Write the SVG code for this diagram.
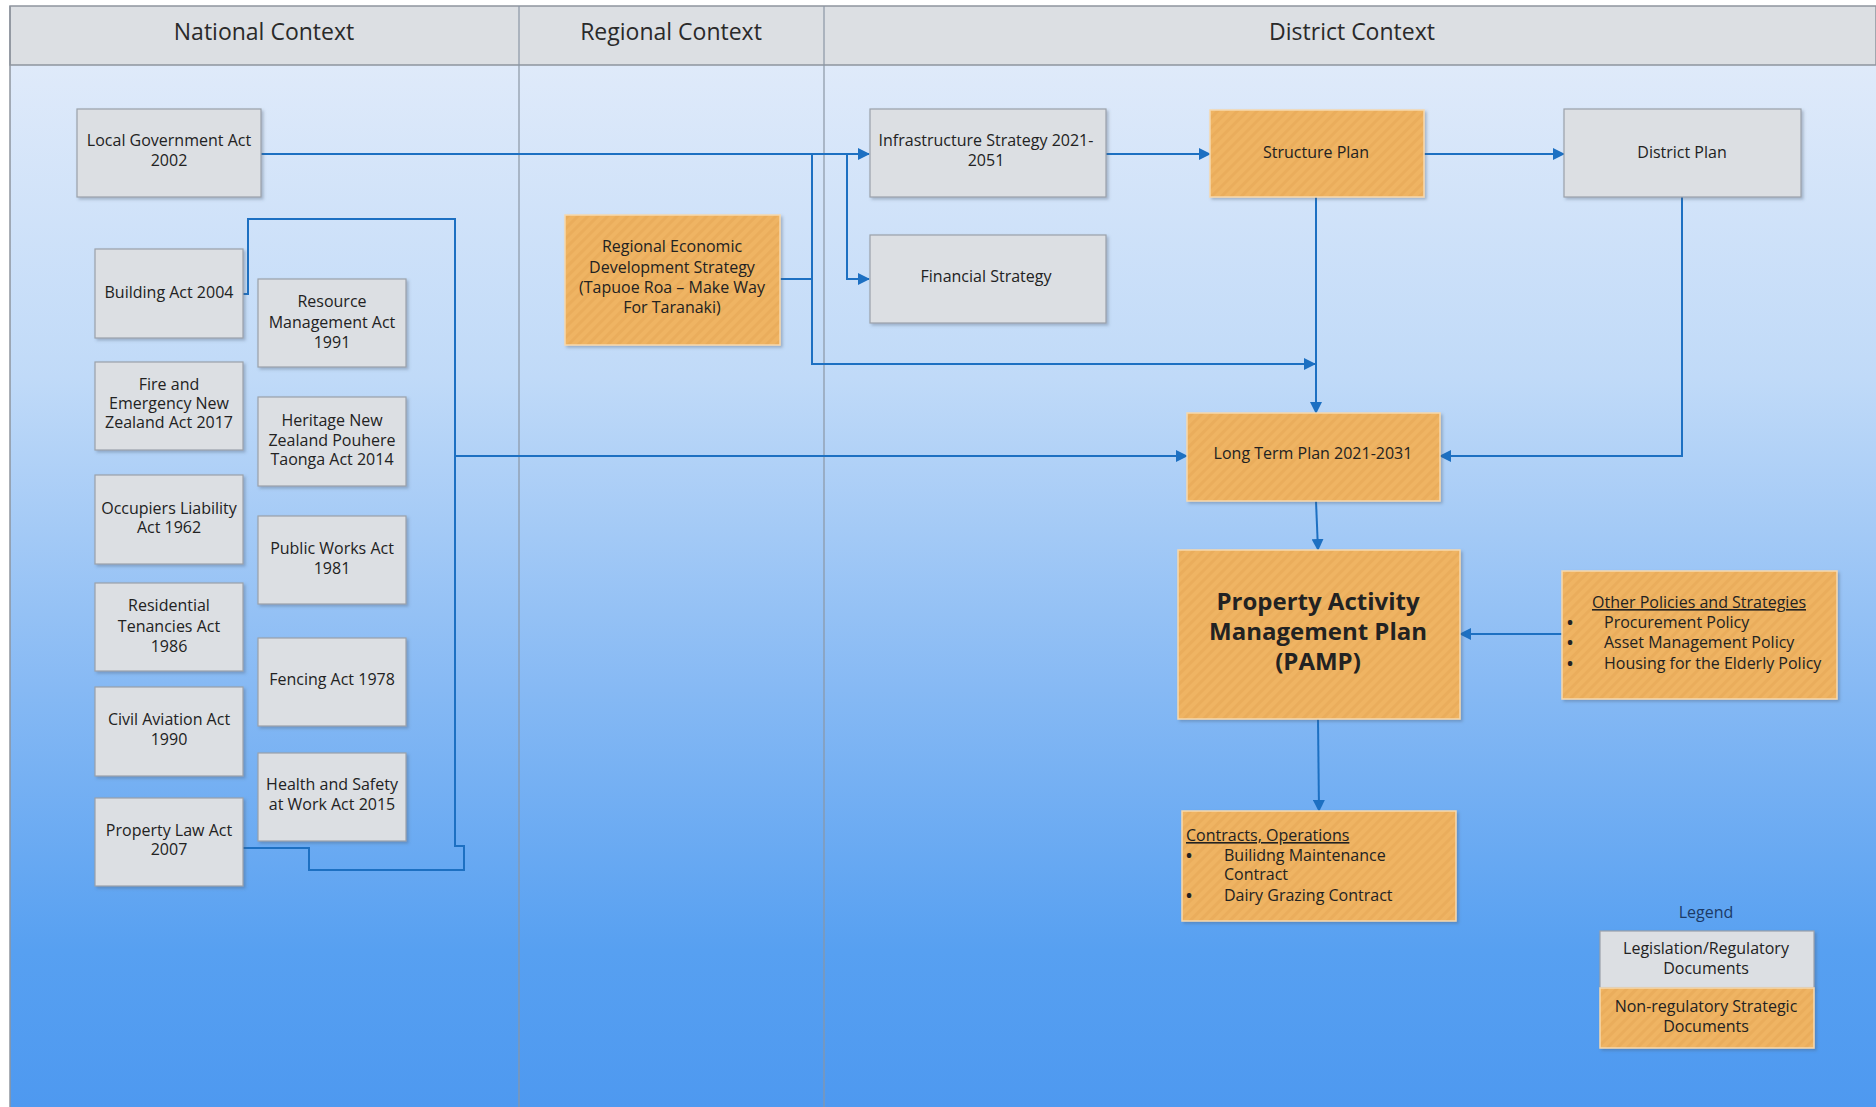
<svg xmlns="http://www.w3.org/2000/svg" width="1876" height="1107" viewBox="0 0 1876 1107">
<style>
text{font-family:"Open Sans","Noto Sans","Liberation Sans",sans-serif;fill:#222;}
.t{font-size:16px;text-anchor:middle;}
.l{font-size:16px;}
.b{font-size:16px;font-weight:bold;}
.h{font-size:23px;text-anchor:middle;fill:#2a2a2a;}
.g{fill:#dcdfe3;stroke:#9aa1aa;stroke-width:1.2;filter:url(#sh);}
.o{fill:url(#hatch);stroke:#f6d9ae;stroke-width:1.5;filter:url(#sh);}
.c{fill:none;stroke:#1d70c2;stroke-width:2;}
.a{marker-end:url(#arr);}
</style>
<defs>
<linearGradient id="bg" x1="0" y1="0" x2="0" y2="1">
<stop offset="0" stop-color="#dfeafa"/>
<stop offset="0.3" stop-color="#c0daf8"/>
<stop offset="0.6" stop-color="#86b9f4"/>
<stop offset="0.85" stop-color="#57a0f1"/>
<stop offset="1" stop-color="#4e99f0"/>
</linearGradient>
<pattern id="hatch" width="7" height="7" patternUnits="userSpaceOnUse" patternTransform="rotate(45)">
<rect width="7" height="7" fill="#efb463"/>
<rect width="3" height="7" fill="#eaad5c"/>
</pattern>
<filter id="sh" x="-5%" y="-5%" width="115%" height="120%">
<feDropShadow dx="2" dy="2" stdDeviation="1.5" flood-color="#4a5a70" flood-opacity="0.35"/>
</filter>
<marker id="arr" markerWidth="12" markerHeight="12" refX="11" refY="6" orient="auto" markerUnits="userSpaceOnUse">
<path d="M0,0 L12,6 L0,12 Z" fill="#1d70c2"/>
</marker>
</defs>

<g id="background">
<rect x="0" y="0" width="1876" height="1107" fill="#ffffff"/>
<rect x="10" y="65" width="1866" height="1042" fill="url(#bg)"/>
<rect x="10" y="6" width="1866" height="59" fill="#dcdfe3" stroke="#8e959e" stroke-width="1.5"/>
<line x1="10" y1="6" x2="10" y2="1107" stroke="#8e959e" stroke-width="1.5"/>
<line x1="519" y1="6" x2="519" y2="1107" stroke="#8a96a4" stroke-width="1.2"/>
<line x1="824" y1="6" x2="824" y2="1107" stroke="#8a96a4" stroke-width="1.2"/>
<text class="h" x="264" y="40">National Context</text>
<text class="h" x="671" y="40">Regional Context</text>
<text class="h" x="1352" y="40">District Context</text>
</g>

<g id="connectors">
<path class="c a" d="M261,154 H869"/>
<path class="c a" d="M847,154 V279 H869"/>
<path class="c" d="M780,279 H812"/>
<path class="c a" d="M812,154 V364 H1315"/>
<path class="c a" d="M1106,154 H1210"/>
<path class="c a" d="M1424,154 H1564"/>
<path class="c a" d="M1316,197 V413"/>
<path class="c a" d="M1682,197 V456 H1440"/>
<path class="c" d="M243,294 H248 V219 H455 V846 H464 V870 H309 V848 H243"/>
<path class="c a" d="M455,456 H1187"/>
<path class="c a" d="M1316,501 L1318,550"/>
<path class="c a" d="M1318,719 L1319,811"/>
<path class="c a" d="M1562,634 H1460"/>
</g>

<g id="local-government-act">
<rect class="g" x="77" y="109" width="184" height="88"/>
<text class="t" x="169" y="146">Local Government Act</text>
<text class="t" x="169" y="166">2002</text>
</g>
<g id="building-act">
<rect class="g" x="95" y="249" width="148" height="89"/>
<text class="t" x="169" y="298">Building Act 2004</text>
</g>
<g id="resource-management-act">
<rect class="g" x="258" y="279" width="148" height="88"/>
<text class="t" x="332" y="307">Resource</text>
<text class="t" x="332" y="328">Management Act</text>
<text class="t" x="332" y="348">1991</text>
</g>
<g id="fire-emergency-act">
<rect class="g" x="95" y="362" width="148" height="88"/>
<text class="t" x="169" y="390">Fire and</text>
<text class="t" x="169" y="409">Emergency New</text>
<text class="t" x="169" y="428">Zealand Act 2017</text>
</g>
<g id="heritage-act">
<rect class="g" x="258" y="397" width="148" height="89"/>
<text class="t" x="332" y="426">Heritage New</text>
<text class="t" x="332" y="446">Zealand Pouhere</text>
<text class="t" x="332" y="465">Taonga Act 2014</text>
</g>
<g id="occupiers-liability-act">
<rect class="g" x="95" y="475" width="148" height="89"/>
<text class="t" x="169" y="514">Occupiers Liability</text>
<text class="t" x="169" y="533">Act 1962</text>
</g>
<g id="public-works-act">
<rect class="g" x="258" y="516" width="148" height="88"/>
<text class="t" x="332" y="554">Public Works Act</text>
<text class="t" x="332" y="574">1981</text>
</g>
<g id="residential-tenancies-act">
<rect class="g" x="95" y="583" width="148" height="88"/>
<text class="t" x="169" y="611">Residential</text>
<text class="t" x="169" y="632">Tenancies Act</text>
<text class="t" x="169" y="652">1986</text>
</g>
<g id="fencing-act">
<rect class="g" x="258" y="638" width="148" height="88"/>
<text class="t" x="332" y="685">Fencing Act 1978</text>
</g>
<g id="civil-aviation-act">
<rect class="g" x="95" y="687" width="148" height="89"/>
<text class="t" x="169" y="725">Civil Aviation Act</text>
<text class="t" x="169" y="745">1990</text>
</g>
<g id="health-safety-act">
<rect class="g" x="258" y="753" width="148" height="88"/>
<text class="t" x="332" y="790">Health and Safety</text>
<text class="t" x="332" y="810">at Work Act 2015</text>
</g>
<g id="property-law-act">
<rect class="g" x="95" y="798" width="148" height="88"/>
<text class="t" x="169" y="836">Property Law Act</text>
<text class="t" x="169" y="855">2007</text>
</g>

<g id="regional-economic-strategy">
<rect class="o" x="565" y="215" width="215" height="130"/>
<text class="t" x="672" y="252">Regional Economic</text>
<text class="t" x="672" y="273">Development Strategy</text>
<text class="t" x="672" y="293">(Tapuoe Roa – Make Way</text>
<text class="t" x="672" y="313">For Taranaki)</text>
</g>

<g id="infrastructure-strategy">
<rect class="g" x="870" y="109" width="236" height="88"/>
<text class="t" x="986" y="146">Infrastructure Strategy 2021-</text>
<text class="t" x="986" y="166">2051</text>
</g>
<g id="financial-strategy">
<rect class="g" x="870" y="235" width="236" height="88"/>
<text class="t" x="986" y="282">Financial Strategy</text>
</g>
<g id="structure-plan">
<rect class="o" x="1210" y="110" width="214" height="87"/>
<text class="t" x="1316" y="158">Structure Plan</text>
</g>
<g id="district-plan">
<rect class="g" x="1564" y="109" width="237" height="88"/>
<text class="t" x="1682" y="158">District Plan</text>
</g>
<g id="long-term-plan">
<rect class="o" x="1187" y="413" width="253" height="88"/>
<text class="t" x="1313" y="459">Long Term Plan 2021-2031</text>
</g>
<g id="pamp">
<rect class="o" x="1178" y="550" width="282" height="169"/>
<text x="1318" y="610" style="font-size:24px;font-weight:bold;text-anchor:middle">Property Activity</text>
<text x="1318" y="640" style="font-size:24px;font-weight:bold;text-anchor:middle">Management Plan</text>
<text x="1318" y="670" style="font-size:24px;font-weight:bold;text-anchor:middle">(PAMP)</text>
</g>
<g id="other-policies">
<rect class="o" x="1562" y="571" width="275" height="128"/>
<text class="t" x="1699" y="608" text-decoration="underline">Other Policies and Strategies</text>
<text class="b" x="1567" y="628">•</text>
<text class="l" x="1604" y="628">Procurement Policy</text>
<text class="b" x="1567" y="648">•</text>
<text class="l" x="1604" y="648">Asset Management Policy</text>
<text class="b" x="1567" y="669">•</text>
<text class="l" x="1604" y="669">Housing for the Elderly Policy</text>
</g>
<g id="contracts-operations">
<rect class="o" x="1182" y="811" width="274" height="110"/>
<text class="l" x="1186" y="841" text-decoration="underline">Contracts, Operations</text>
<text class="b" x="1186" y="861">•</text>
<text class="l" x="1224" y="861">Builidng Maintenance</text>
<text class="l" x="1224" y="880">Contract</text>
<text class="b" x="1186" y="901">•</text>
<text class="l" x="1224" y="901">Dairy Grazing Contract</text>
</g>

<g id="legend">
<text x="1706" y="918" style="font-size:16px;text-anchor:middle;fill:#1c3a66">Legend</text>
<rect class="g" x="1600" y="931" width="214" height="57"/>
<text class="t" x="1706" y="954">Legislation/Regulatory</text>
<text class="t" x="1706" y="974">Documents</text>
<rect class="o" x="1600" y="988" width="214" height="60"/>
<text class="t" x="1706" y="1012">Non-regulatory Strategic</text>
<text class="t" x="1706" y="1032">Documents</text>
</g>
</svg>
